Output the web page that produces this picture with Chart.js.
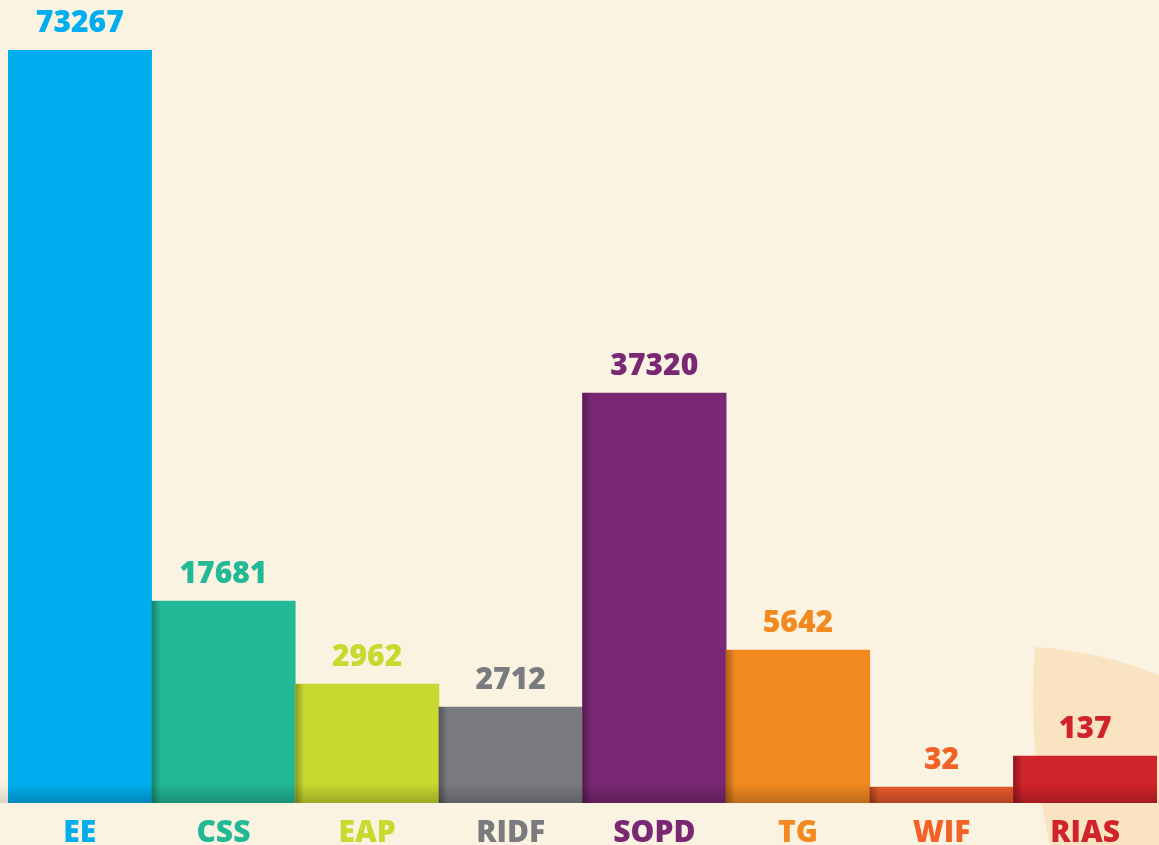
<!DOCTYPE html>
<html>
<head>
<meta charset="utf-8">
<script src="https://cdn.jsdelivr.net/npm/chart.js@4/dist/chart.umd.min.js"></script>
<style>
    html, body { margin: 0; padding: 0; background: #faf3e1; }
    #wrap { width: 1159px; height: 845px; position: relative; }
</style>
</head>
<body>
<div id="wrap"><canvas id="chart"></canvas></div>
<script>
// categories and the numbers printed above each bar
const categories = ['EE', 'CSS', 'EAP', 'RIDF', 'SOPD', 'TG', 'WIF', 'RIAS'];
const printedValues = [73267, 17681, 2962, 2712, 37320, 5642, 32, 137];
// drawn bar heights (the infographic is not to scale)
const barHeights = [753, 202, 119, 96, 410, 153, 16, 47];
const barColors = ['#00aeef', '#22b996', '#c8d92f', '#7a7b7e', '#7a2873', '#f28a1f', '#e3582a', '#d1232a'];
const textColors = ['#00aeef', '#22b996', '#c8d92f', '#7a7b7e', '#7a2873', '#f28a1f', '#f26126', '#d1232a'];

const FONT = "'Open Sans', sans-serif";

const backdrop = {
    id: 'backdrop',
    beforeDraw(chart) {
        const ctx = chart.ctx;
        const w = chart.width, h = chart.height;
        ctx.save();
        ctx.fillStyle = '#faf3e1';
        ctx.fillRect(0, 0, w, h);
        // peach blob in the lower right corner
        ctx.fillStyle = '#f9e3c1';
        ctx.beginPath();
        ctx.moveTo(w - 124, h - 198);
        ctx.quadraticCurveTo(w - 60, h - 194, w, h - 170);
        ctx.lineTo(w, h);
        ctx.lineTo(w - 109, h);
        ctx.quadraticCurveTo(w - 132, h - 100, w - 124, h - 198);
        ctx.fill();
        ctx.restore();
    }
};

const barDecor = {
    id: 'barDecor',
    afterDatasetsDraw(chart) {
        const ctx = chart.ctx;
        const bars = chart.getDatasetMeta(0).data;
        ctx.save();
        bars.forEach((bar, i) => {
            const left = bar.x - bar.width / 2;
            const top = bar.y;
            const bottom = bar.base;
            // darker foot of each bar
            const fh = Math.min(20, bottom - top);
            let g = ctx.createLinearGradient(0, bottom - fh, 0, bottom);
            g.addColorStop(0, 'rgba(0,0,0,0)');
            g.addColorStop(1, 'rgba(0,0,0,0.22)');
            ctx.fillStyle = g;
            ctx.fillRect(left, bottom - fh, bar.width, fh);
            // shadow cast by the neighbour on the left
            if (i > 0) {
                g = ctx.createLinearGradient(left, 0, left + 9, 0);
                g.addColorStop(0, 'rgba(0,0,0,0.3)');
                g.addColorStop(1, 'rgba(0,0,0,0)');
                ctx.fillStyle = g;
                ctx.fillRect(left, top, 9, bottom - top);
            }
            // printed value
            ctx.fillStyle = textColors[i];
            ctx.font = '800 30px ' + FONT;
            ctx.textAlign = 'center';
            ctx.textBaseline = 'alphabetic';
            ctx.fillText(String(printedValues[i]), bar.x, top - 18);
        });
        // faint shadow at the foot of the first bar
        const first = bars[0];
        const g2 = ctx.createLinearGradient(0, first.base - 22, 0, first.base);
        g2.addColorStop(0, 'rgba(0,0,0,0)');
        g2.addColorStop(1, 'rgba(0,0,0,0.12)');
        ctx.fillStyle = g2;
        ctx.fillRect(0, first.base - 22, first.x - first.width / 2, 22);
        ctx.restore();
    }
};

new Chart(document.getElementById('chart'), {
    type: 'bar',
    data: {
        labels: categories,
        datasets: [{
            data: barHeights,
            backgroundColor: barColors,
            borderWidth: 0,
            categoryPercentage: 1,
            barPercentage: 1
        }]
    },
    options: {
        responsive: true,
        maintainAspectRatio: false,
        animation: false,
        layout: { padding: { top: 50, left: 8, right: 2, bottom: 0 } },
        plugins: {
            legend: { display: false },
            tooltip: { enabled: false }
        },
        scales: {
            x: {
                grid: { display: false, drawTicks: false },
                border: { display: false },
                afterFit(scale) { scale.height = 42; },
                ticks: {
                    color: textColors,
                    padding: 15,
                    font: { family: FONT, size: 30, weight: '800', lineHeight: 1 }
                }
            },
            y: {
                display: false,
                min: 0,
                max: 753
            }
        }
    },
    plugins: [backdrop, barDecor]
});
</script>
</body>
</html>
